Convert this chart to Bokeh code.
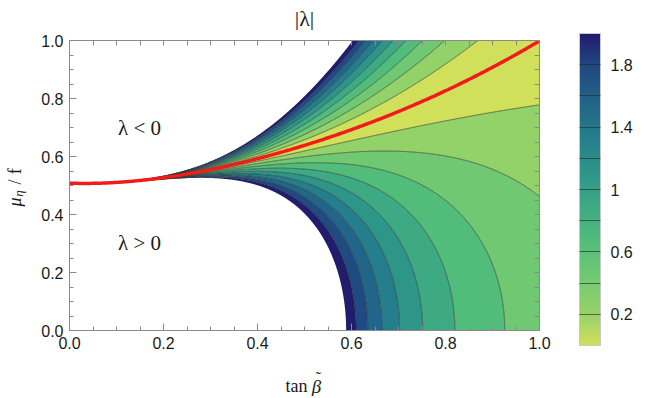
import numpy as np
from bokeh.plotting import figure
from bokeh.layouts import row, column
from bokeh.models import (FixedTicker, LinearAxis, PrintfTickFormatter, Range1d, ColumnDataSource,
                          ColorBar, LinearColorMapper)
from bokeh.core.properties import value
from bokeh.embed import file_html
from bokeh.resources import INLINE

# ---- values ----
# lambda = 0 curve (red line): tan(beta~) vs mu_eta/f
red_t = [0.0, 0.15, 0.26, 0.37, 0.47, 0.57, 0.66, 0.73, 0.80, 0.92, 1.0]
red_mu = [0.507, 0.521, 0.540, 0.580, 0.624, 0.675, 0.730, 0.776, 0.828, 0.922, 1.0]
# |lambda| at tan beta = 1, mu = 0  and the power of tan beta in the denominator
lam_scale = 0.51
tan_power = 4
levels = [0.0, 0.2, 0.4, 0.6, 0.8, 1.0, 1.2, 1.4, 1.6, 1.8, 2.0]
band_colors = ["#d0e05b", "#93d169", "#70c873", "#52bd7b", "#3daa84",
               "#2e9589", "#257e8b", "#216689", "#204a82", "#211c6e"]
x_ticks = [0.0, 0.2, 0.4, 0.6, 0.8, 1.0]
y_ticks = [0.0, 0.2, 0.4, 0.6, 0.8, 1.0]
minor_ticks = [round(0.05 * i, 2) for i in range(21)]
cbar_ticks = [0.2, 0.6, 1.0, 1.4, 1.8]
cbar_lines = [0.4, 0.8, 1.2, 1.6]
region_labels = ["λ < 0", "λ > 0"]
region_x = [0.149, 0.149]
region_y = [0.697, 0.303]

# ---- field ----
coef = np.polyfit(red_t, np.array(red_mu) ** 2, 4)
t = np.linspace(0.0005, 1.0, 700)
mu = np.linspace(0.0, 1.0, 700)
T, M = np.meshgrid(t, mu)
lam = lam_scale * (np.polyval(coef, T) - M ** 2) / T ** tan_power
z = np.clip(np.abs(lam), 0, 50)

serif = "Liberation Serif"
sans = "Liberation Sans"
W = 643
TH = 30          # title strip height
TOP = 10         # main canvas border above frame (frame at page y 40)
BOTTOM = 30
XH = 36          # x-label strip height

def strip(width, height, y0, y1):
    f = figure(frame_width=width, frame_height=height, x_range=Range1d(0, width),
               y_range=Range1d(y0, y1), output_backend="svg", toolbar_location=None, title=None,
               x_axis_location=None, y_axis_location=None,
               min_border_left=0, min_border_right=0, min_border_top=0, min_border_bottom=0)
    f.grid.visible = False
    f.outline_line_color = None
    return f

# ---- title strip (page y 0..30) ----
tf = strip(W, TH, TH, 0)
tf.text(x=[304], y=[17.5], text=["|λ|"], text_font=value(serif), text_font_size="22px",
        text_align="center", text_baseline="middle", text_color="#1a1a1a")

# ---- y-axis label panel ----
yl = figure(frame_width=32, frame_height=290, x_range=Range1d(0, 32), y_range=Range1d(0, 1),
            output_backend="svg", toolbar_location=None, title=None,
            x_axis_location=None, y_axis_location=None,
            min_border_left=0, min_border_right=0, min_border_top=TOP, min_border_bottom=BOTTOM)
yl.grid.visible = False
yl.outline_line_color = None
ylab = ColumnDataSource(dict(x=[14, 18, 14, 14], y=[0.443, 0.472, 0.512, 0.549],
                             t=["μ", "η", "/", "f"], s=["18px", "13px", "18px", "18px"],
                             st=["italic", "italic", "normal", "normal"]))
yl.text(x="x", y="y", text="t", source=ylab, angle=np.pi / 2, text_font=value(serif),
        text_font_size="s", text_font_style="st", text_align="center", text_baseline="middle",
        text_color="#1a1a1a")

# ---- main plot ----
p = figure(frame_width=470, frame_height=290, x_range=Range1d(0, 1), y_range=Range1d(0, 1),
           output_backend="svg", toolbar_location=None, title=None,
           min_border_left=37, min_border_right=104, min_border_top=TOP, min_border_bottom=BOTTOM)
p.grid.visible = False
p.outline_line_color = "#8a8a8a"

line_alpha = [0.0] + [0.7] * (len(levels) - 2) + [0.0]
p.contour(t, mu, z, levels=levels, fill_color=band_colors,
          line_color="#2b302b", line_alpha=line_alpha, line_width=0.9)

tl = np.linspace(0.0, 1.0, 300)
p.line(tl, np.sqrt(np.polyval(coef, tl)), line_color="#f21a1a", line_width=3.5)

p.text(x=region_x, y=region_y, text=region_labels, text_font=value(serif),
       text_font_size="21px", text_align="center", text_baseline="middle", text_color="#1a1a1a")

def style_axis(ax):
    ax.axis_line_color = "#8a8a8a"
    ax.major_tick_line_color = "#8a8a8a"
    ax.minor_tick_line_color = "#8a8a8a"
    ax.major_tick_in = 7
    ax.major_tick_out = 0
    ax.minor_tick_in = 4
    ax.minor_tick_out = 0

p.xaxis.ticker = FixedTicker(ticks=x_ticks, minor_ticks=minor_ticks)
p.yaxis.ticker = FixedTicker(ticks=y_ticks, minor_ticks=minor_ticks)
for ax in (p.xaxis[0], p.yaxis[0]):
    style_axis(ax)
    ax.major_label_text_font = sans
    ax.major_label_text_font_size = "16px"
    ax.major_label_text_color = "#1a1a1a"
    ax.formatter = PrintfTickFormatter(format="%.1f")
    ax.major_label_standoff = 6

# mirrored tick marks on top and right (minor ticks only, no labels)
ax_top = LinearAxis(ticker=FixedTicker(ticks=[], minor_ticks=minor_ticks))
style_axis(ax_top)
ax_top.minor_tick_in = 5
p.add_layout(ax_top, "above")
ax_right = LinearAxis(ticker=FixedTicker(ticks=[], minor_ticks=minor_ticks))
style_axis(ax_right)
ax_right.minor_tick_in = 5
p.add_layout(ax_right, "right")

# ---- colour bar ----
stops = np.linspace(levels[0], levels[-1], len(band_colors))
rgb = np.array([[int(c[i:i + 2], 16) for i in (1, 3, 5)] for c in band_colors], dtype=float)
mids = np.linspace(levels[0], levels[-1], 161)
mids = 0.5 * (mids[:-1] + mids[1:])
cols = ["#%02x%02x%02x" % tuple(int(round(np.interp(m, stops, rgb[:, k]))) for k in range(3))
        for m in mids]
mapper = LinearColorMapper(palette=cols, low=levels[0], high=levels[-1])
cbar = ColorBar(color_mapper=mapper, orientation="vertical", width=21, height=312,
                location=(40, -15), padding=0, margin=0,
                ticker=FixedTicker(ticks=cbar_ticks, minor_ticks=cbar_lines),
                formatter=PrintfTickFormatter(format="%g"),
                major_tick_in=21, major_tick_out=0, major_tick_line_color="#2b2b2b",
                major_tick_line_alpha=0.65, major_tick_line_width=1.2,
                minor_tick_in=21, minor_tick_out=0, minor_tick_line_color="#2b2b2b",
                minor_tick_line_alpha=0.65, minor_tick_line_width=1.2,
                bar_line_color="#c8c8c8", label_standoff=10,
                major_label_text_font=sans, major_label_text_font_size="16px",
                major_label_text_color="#1a1a1a",
                background_fill_alpha=0, border_line_color=None)
p.add_layout(cbar, "right")

# ---- x-axis label strip (page y 360..396) ----
xl = strip(W, XH, XH, 0)
xlab = ColumnDataSource(dict(x=[296, 316, 318], y=[25.5, 25.5, 16.5],
                             t=["tan", "β", "˜"], s=["18px", "19px", "16px"],
                             st=["normal", "italic", "normal"]))
xl.text(x="x", y="y", text="t", source=xlab, text_font=value(serif), text_font_size="s",
        text_font_style="st", text_align="center", text_baseline="middle", text_color="#1a1a1a")

layout = column(tf, row(yl, p), xl)
open("out.html", "w").write(file_html(layout, INLINE))
